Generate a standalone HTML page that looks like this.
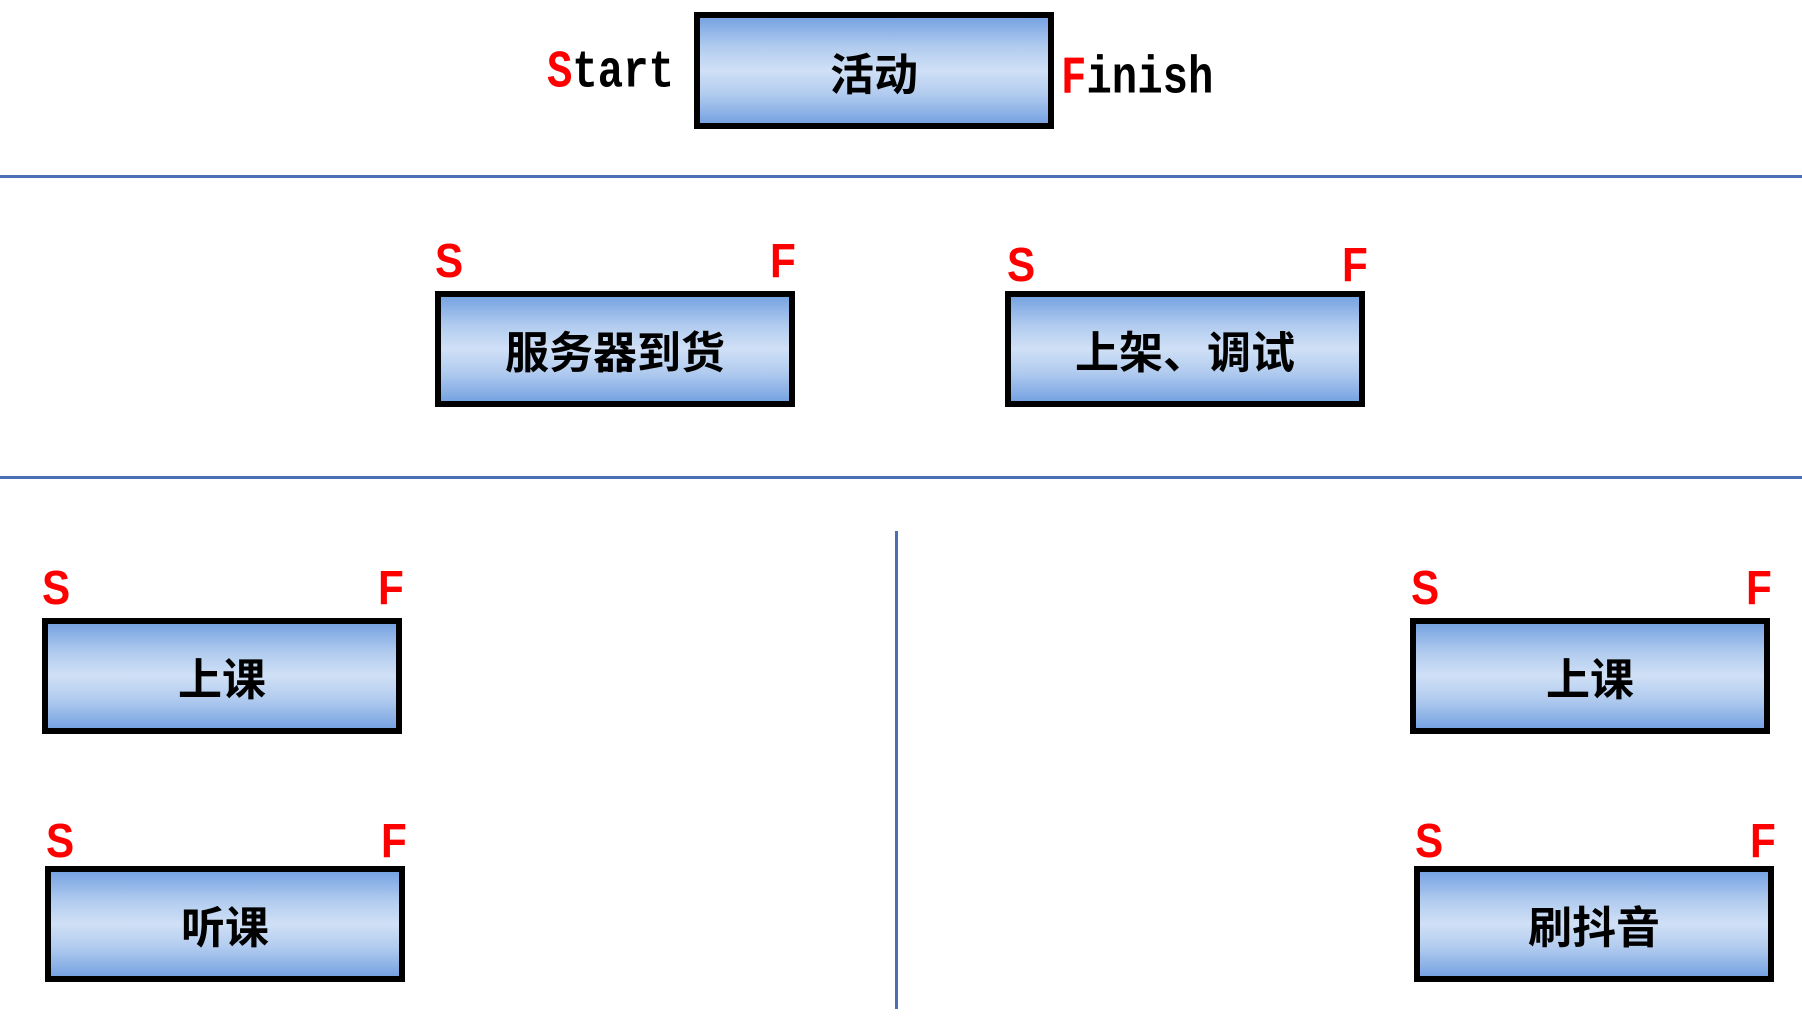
<!DOCTYPE html>
<html><head><meta charset="utf-8"><style>
body{margin:0;width:1802px;height:1032px;background:#fff;position:relative;overflow:hidden;font-family:"Liberation Sans","Noto Sans CJK SC",sans-serif}
.box{position:absolute;box-sizing:border-box;width:360px;height:116px;border:6px solid #000;background:linear-gradient(to bottom,#77a3e2 0%,#b2ccef 28%,#d0e0f6 50%,#b2ccef 72%,#77a3e2 100%);display:flex;align-items:center;justify-content:center;font-family:"Noto Sans CJK SC",sans-serif;font-weight:bold;font-size:44px;color:#000}
.l{position:absolute;color:#f00;font-weight:bold;font-size:48px;line-height:1;font-family:"Liberation Sans",sans-serif;transform:scaleX(0.88);transform-origin:left top}
.h{position:absolute;left:0;width:1802px;height:3px;background:#4a6fb5}
.t{position:absolute;font-family:"Liberation Mono",monospace;font-weight:bold;font-size:46px;line-height:1;transform-origin:left top;transform:scale(0.92,1.15);white-space:nowrap}
</style></head><body>
<div class="t" style="left:547px;top:46px"><span style="color:#f00">S</span>tart</div>
<div class="box" style="left:694px;top:12px;height:117px">活动</div>
<div class="t" style="left:1061px;top:52px"><span style="color:#f00">F</span>inish</div>
<div class="h" style="top:175px"></div>
<div class="h" style="top:476px"></div>
<div style="position:absolute;left:895px;top:531px;width:3px;height:478px;background:#4a6fb5"></div>

<div class="l" style="left:435px;top:238px">S</div><div class="l" style="left:770px;top:238px">F</div>
<div class="box" style="left:435px;top:291px">服务器到货</div>
<div class="l" style="left:1007px;top:242px">S</div><div class="l" style="left:1342px;top:242px">F</div>
<div class="box" style="left:1005px;top:291px">上架、调试</div>

<div class="l" style="left:42px;top:565px">S</div><div class="l" style="left:378px;top:565px">F</div>
<div class="box" style="left:42px;top:618px">上课</div>
<div class="l" style="left:46px;top:818px">S</div><div class="l" style="left:381px;top:818px">F</div>
<div class="box" style="left:45px;top:866px">听课</div>

<div class="l" style="left:1411px;top:565px">S</div><div class="l" style="left:1746px;top:565px">F</div>
<div class="box" style="left:1410px;top:618px">上课</div>
<div class="l" style="left:1415px;top:818px">S</div><div class="l" style="left:1750px;top:818px">F</div>
<div class="box" style="left:1414px;top:866px">刷抖音</div>
</body></html>
